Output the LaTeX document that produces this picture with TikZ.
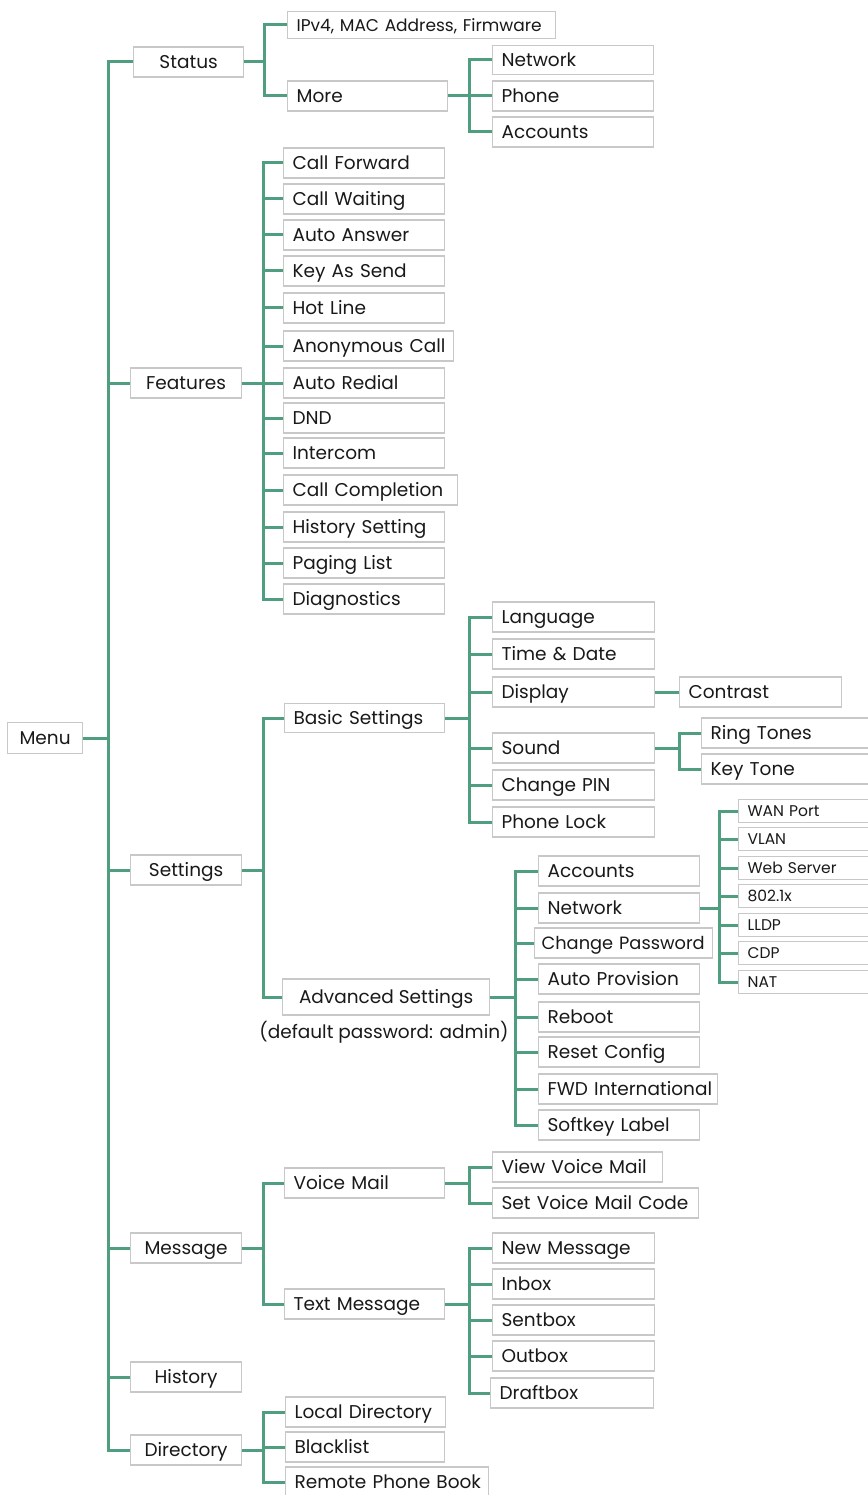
\documentclass[tikz,border=0pt]{standalone}
\usepackage{fontspec}
\setmainfont{Poppins}
\definecolor{lgreen}{RGB}{80,158,128}
\definecolor{bgray}{RGB}{200,200,200}
\definecolor{txt}{RGB}{25,25,25}
\newcommand\mfs{\fontsize{18.5}{22}\selectfont}
\newcommand\nfs{\fontsize{17}{22}\selectfont}
\newcommand\cfs{\fontsize{17.8}{22}\selectfont}
\newcommand\sfs{\fontsize{15.5}{18}\selectfont}
\tikzset{
  conn/.style={draw=lgreen, line width=3pt},
  topbox/.style={draw=bgray, line width=1.2pt, fill=white, anchor=west, minimum height=30pt,
    minimum width=#1, inner sep=0pt, font=\mfs, text=txt, text height=13.5pt, text depth=0pt},
  leaf/.style={draw=bgray, line width=1.2pt, fill=white, anchor=west, minimum height=30pt,
    inner xsep=9pt, inner ysep=0pt, text width=#1, align=left, font=\mfs, text=txt,
    text height=13.5pt, text depth=0pt,
    execute at begin node={\leavevmode\hbox\bgroup}, execute at end node={\egroup}},
  small/.style={leaf=#1, minimum height=23pt, font=\sfs, text height=11pt},
}
\begin{document}
\begin{tikzpicture}[x=1pt,y=-1pt]
\useasboundingbox (0,0) rectangle (867,1495);
% level 0/1
\node[topbox=75pt, minimum height=31pt] (menu) at (7,738) {Menu};
\node[topbox=110pt] (status) at (133,62) {Status};
\node[topbox=111pt] (features) at (130,383) {Features};
\node[topbox=111pt] (settings) at (130,870) {Settings};
\node[topbox=111pt] (message) at (130,1248) {Message};
\node[topbox=111pt] (history) at (130,1377) {History};
\node[topbox=111pt] (directory) at (130,1450) {Directory};
% status
\node[leaf=250pt, minimum height=27pt, font=\nfs, text height=12.5pt] (ipv4) at (287,25) {IPv4, MAC Address, Firmware};
\node[leaf=142pt] (more) at (287,96) {More};
\node[leaf=143pt, minimum height=29pt] (snet) at (492,60) {Network};
\node[leaf=143pt] (sphone) at (492,96) {Phone};
\node[leaf=143pt] (sacc) at (492,132) {Accounts};
% features
\node[leaf=143pt] (cf) at (283,163) {Call Forward};
\node[leaf=143pt] (cw) at (283,199) {Call Waiting};
\node[leaf=143pt] (aa) at (283,235) {Auto Answer};
\node[leaf=143pt] (kas) at (283,271) {Key As Send};
\node[leaf=143pt] (hl) at (283,308) {Hot Line};
\node[leaf=152pt] (anon) at (283,346) {Anonymous Call};
\node[leaf=143pt] (ar) at (283,383) {Auto Redial};
\node[leaf=143pt] (dnd) at (283,418) {DND};
\node[leaf=143pt] (ic) at (283,453) {Intercom};
\node[leaf=156pt] (cc) at (283,490) {Call Completion};
\node[leaf=143pt] (hs) at (283,527) {History Setting};
\node[leaf=143pt] (pl) at (283,563) {Paging List};
\node[leaf=143pt] (dg) at (283,599) {Diagnostics};
% settings
\node[leaf=142pt, minimum height=29pt] (basic) at (284,718) {Basic Settings};
\node[topbox=207pt, minimum height=36pt] (advanced) at (282,997) {Advanced Settings};
\node[font=\mfs, text=txt, inner sep=0pt] (pwd) at (384,1032) {(default password: admin)};
\node[leaf=144pt] (lang) at (492,617) {Language};
\node[leaf=144pt] (td) at (492,654) {Time \& Date};
\node[leaf=144pt] (disp) at (492,692) {Display};
\node[leaf=144pt] (sound) at (492,748) {Sound};
\node[leaf=144pt] (cpin) at (492,785) {Change PIN};
\node[leaf=144pt] (plock) at (492,822) {Phone Lock};
\node[leaf=144pt] (contrast) at (679,692) {Contrast};
\node[leaf=162pt] (ring) at (701,733) {Ring Tones};
\node[leaf=162pt] (keytone) at (701,769) {Key Tone};
\node[leaf=143pt] (aacc) at (538,871) {Accounts};
\node[leaf=143pt] (anet) at (538,908) {Network};
\node[leaf=164pt, font=\cfs, inner xsep=7pt] (cpw) at (534,943) {Change Password};
\node[leaf=143pt] (ap) at (538,979) {Auto Provision};
\node[leaf=143pt] (reboot) at (538,1017) {Reboot};
\node[leaf=143pt] (reset) at (538,1052) {Reset Config};
\node[leaf=161pt] (fwd) at (538,1089) {FWD International};
\node[leaf=143pt] (softkey) at (538,1125) {Softkey Label};
\node[small=122pt] (wan) at (738,811) {WAN Port};
\node[small=122pt] (vlan) at (738,839) {VLAN};
\node[small=122pt] (web) at (738,868) {Web Server};
\node[small=122pt] (dotx) at (738,896) {802.1x};
\node[small=122pt] (lldp) at (738,925) {LLDP};
\node[small=122pt] (cdp) at (738,953) {CDP};
\node[small=122pt] (nat) at (738,982) {NAT};
% message
\node[leaf=142pt] (vm) at (284,1183) {Voice Mail};
\node[leaf=142pt] (tm) at (284,1304) {Text Message};
\node[leaf=152pt] (vvm) at (492,1167) {View Voice Mail};
\node[leaf=188pt] (svm) at (492,1203) {Set Voice Mail Code};
\node[leaf=144pt] (nm) at (492,1248) {New Message};
\node[leaf=144pt] (inbox) at (492,1284) {Inbox};
\node[leaf=144pt] (sent) at (492,1320) {Sentbox};
\node[leaf=144pt] (outbox) at (492,1356) {Outbox};
\node[leaf=145pt] (draft) at (490,1393) {Draftbox};
% directory
\node[leaf=142pt] (ld) at (285,1412) {Local Directory};
\node[leaf=141pt] (bl) at (285,1447) {Blacklist};
\node[leaf=185pt] (rpb) at (285,1482) {Remote Phone Book};
% connectors
\foreach \c in {status,features,settings,message,history,directory}
  \draw[conn] (menu.east) -- ++(25,0) |- (\c.west);
\foreach \c in {ipv4,more}
  \draw[conn] (status.east) -- ++(20,0) |- (\c.west);
\foreach \c in {snet,sphone,sacc}
  \draw[conn] (more.east) -- ++(21,0) |- (\c.west);
\foreach \c in {cf,cw,aa,kas,hl,anon,ar,dnd,ic,cc,hs,pl,dg}
  \draw[conn] (features.east) -- ++(21,0) |- (\c.west);
\foreach \c in {basic,advanced}
  \draw[conn] (settings.east) -- ++(21,0) |- (\c.west);
\foreach \c in {lang,td,disp,sound,cpin,plock}
  \draw[conn] (basic.east) -- ++(24,0) |- (\c.west);
\draw[conn] (disp.east) -- (contrast.west);
\foreach \c in {ring,keytone}
  \draw[conn] (sound.east) -- ++(24,0) |- (\c.west);
\foreach \c in {aacc,anet,cpw,ap,reboot,reset,fwd,softkey}
  \draw[conn] (advanced.east) -- ++(25,0) |- (\c.west);
\foreach \c in {wan,vlan,web,dotx,lldp,cdp,nat}
  \draw[conn] (anet.east) -- ++(19,0) |- (\c.west);
\foreach \c in {vm,tm}
  \draw[conn] (message.east) -- ++(21,0) |- (\c.west);
\foreach \c in {vvm,svm}
  \draw[conn] (vm.east) -- ++(24,0) |- (\c.west);
\foreach \c in {nm,inbox,sent,outbox,draft}
  \draw[conn] (tm.east) -- ++(24,0) |- (\c.west);
\foreach \c in {ld,bl,rpb}
  \draw[conn] (directory.east) -- ++(21,0) |- (\c.west);
\end{tikzpicture}
\end{document}
